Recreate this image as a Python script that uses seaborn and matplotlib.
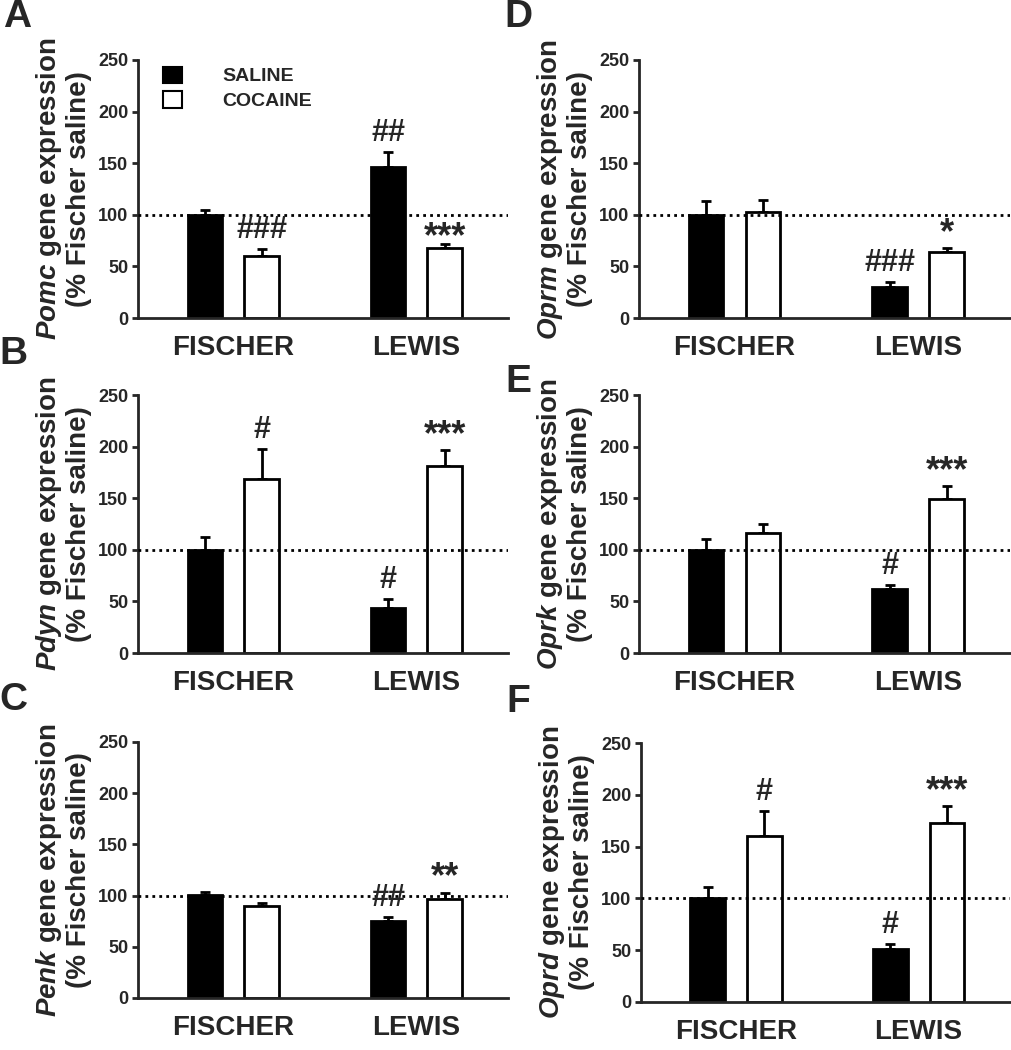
import matplotlib
matplotlib.use("Agg")
import matplotlib.pyplot as plt
from matplotlib.patches import Patch
from matplotlib.container import BarContainer
import seaborn as sns
import pandas as pd

# ---------------- data ----------------
strains = ["FISCHER", "LEWIS"]
treatments = ["SALINE", "COCAINE"]
genes = ["Pomc", "Pdyn", "Penk", "Oprm", "Oprk", "Oprd"]
panel_letters = ["A", "B", "C", "D", "E", "F"]

# means: [Fischer, Lewis]
saline_mean = {
    "Pomc": [100, 146], "Pdyn": [100, 44], "Penk": [101, 75],
    "Oprm": [100, 30], "Oprk": [100, 62], "Oprd": [100, 51],
}
saline_sem = {
    "Pomc": [5, 15], "Pdyn": [12, 8], "Penk": [3, 4],
    "Oprm": [13, 5], "Oprk": [10, 4], "Oprd": [11, 5],
}
cocaine_mean = {
    "Pomc": [60, 68], "Pdyn": [169, 181], "Penk": [90, 97],
    "Oprm": [103, 64], "Oprk": [116, 149], "Oprd": [160, 173],
}
cocaine_sem = {
    "Pomc": [7, 4], "Pdyn": [29, 16], "Penk": [3, 6],
    "Oprm": [11, 4], "Oprk": [9, 13], "Oprd": [24, 16],
}
# significance marks: (gene, strain index, treatment index, text)
marks = [
    ("Pomc", 0, 1, "###"), ("Pomc", 1, 0, "##"), ("Pomc", 1, 1, "***"),
    ("Pdyn", 0, 1, "#"), ("Pdyn", 1, 0, "#"), ("Pdyn", 1, 1, "***"),
    ("Penk", 1, 0, "##"), ("Penk", 1, 1, "**"),
    ("Oprm", 1, 0, "###"), ("Oprm", 1, 1, "*"),
    ("Oprk", 1, 0, "#"), ("Oprk", 1, 1, "***"),
    ("Oprd", 0, 1, "#"), ("Oprd", 1, 0, "#"), ("Oprd", 1, 1, "***"),
]
ytick_vals = [0, 50, 100, 150, 200, 250]

# ---------------- style ----------------
sns.set_style("ticks")
plt.rcParams["font.family"] = ["Liberation Sans", "DejaVu Sans"]
plt.rcParams["font.weight"] = "bold"
plt.rcParams["mathtext.fontset"] = "custom"
plt.rcParams["mathtext.it"] = "Liberation Sans:italic:bold"
plt.rcParams["mathtext.rm"] = "Liberation Sans:bold"
plt.rcParams["mathtext.bf"] = "Liberation Sans:bold"

W, H = 1012, 1050
fig = plt.figure(figsize=(W / 100, H / 100), dpi=100)
fig.patch.set_facecolor("white")

# axes boxes in pixels: left, top, right, bottom
boxes = {
    "Pomc": (138, 60, 508, 318),
    "Pdyn": (138, 395, 508, 653),
    "Penk": (138, 742, 508, 998),
    "Oprm": (639, 60, 1010, 318),
    "Oprk": (639, 395, 1010, 653),
    "Oprd": (641, 743, 1010, 1002),
}
letter_pos = {
    "A": (17, 17), "B": (13, 354), "C": (13, 700),
    "D": (518, 17), "E": (518, 382), "F": (518, 702),
}

palette = {"SALINE": "black", "COCAINE": "white"}

for gi, gene in enumerate(genes):
    l, t, r, b = boxes[gene]
    ax = fig.add_axes([l / W, 1 - b / H, (r - l) / W, (b - t) / H])
    rows = []
    for si, s in enumerate(strains):
        rows.append({"strain": s, "treatment": "SALINE", "value": saline_mean[gene][si]})
        rows.append({"strain": s, "treatment": "COCAINE", "value": cocaine_mean[gene][si]})
    df = pd.DataFrame(rows)
    sns.barplot(data=df, x="strain", y="value", hue="treatment", order=strains,
                hue_order=treatments, palette=palette, edgecolor="black",
                linewidth=2, width=0.62, gap=0.39, errorbar=None, ax=ax,
                legend=False, saturation=1)
    sems = [saline_sem[gene], cocaine_sem[gene]]
    tops = {}
    bar_conts = [c for c in ax.containers if isinstance(c, BarContainer)]
    for ti, cont in enumerate(bar_conts):
        xs = [p.get_x() + p.get_width() / 2 for p in cont.patches]
        hs = [p.get_height() for p in cont.patches]
        ax.errorbar(xs, hs, yerr=[[0] * len(hs), sems[ti]], fmt="none",
                    ecolor="black", elinewidth=2, capsize=3.5, capthick=2, zorder=1)
        for si, (x, h) in enumerate(zip(xs, hs)):
            tops[(si, ti)] = (x, h + sems[ti][si])
        for p in cont.patches:
            p.set_zorder(2)

    ax.axhline(100, color="black", linestyle=(0, (1, 1.5)), linewidth=2, zorder=3)

    for g, si, ti, txt in marks:
        if g != gene:
            continue
        x, top = tops[(si, ti)]
        if txt.startswith("#"):
            ax.text(x, top + 4, txt, ha="center", va="bottom", fontsize=22,
                    fontweight="bold")
        else:
            off = -11 if (gene == "Pomc") else -3
            ax.text(x, top + off, txt, ha="center", va="bottom", fontsize=26,
                    fontweight="bold")

    ax.set_ylim(0, 250)
    ax.set_xlim(-0.52, 1.5)
    ax.set_yticks(ytick_vals)
    ax.set_yticklabels([str(v) for v in ytick_vals], fontsize=13, fontweight="bold")
    ax.tick_params(axis="y", length=4, width=2, pad=3)
    ax.tick_params(axis="x", length=0, pad=12, labelsize=20)
    for lab in ax.get_xticklabels():
        lab.set_fontweight("bold")
    ax.set_xlabel("")
    ax.set_ylabel("$\\mathit{" + gene + "}$ gene expression\n(% Fischer saline)",
                  fontsize=20, fontweight="bold", linespacing=1.1, labelpad=4)
    sns.despine(ax=ax)
    ax.spines["left"].set_linewidth(2)
    ax.spines["bottom"].set_linewidth(2)
    ax.set_facecolor("white")

    if gi == 0:
        handles = [Patch(facecolor="black", edgecolor="black", linewidth=1.5),
                   Patch(facecolor="white", edgecolor="black", linewidth=1.5)]
        ax.legend(handles, treatments, loc="upper left", bbox_to_anchor=(0.036, 1.02),
                  frameon=False, handlelength=0.98, handleheight=0.93,
                  handletextpad=2.05, labelspacing=0.3, borderaxespad=0.2,
                  prop={"weight": "bold", "size": 14})

    lx, ly = letter_pos[panel_letters[gi]]
    fig.text(lx / W, 1 - ly / H, panel_letters[gi], fontsize=28, fontweight="bold",
             ha="center", va="center")

fig.savefig("out.png", dpi=100, facecolor="white")
